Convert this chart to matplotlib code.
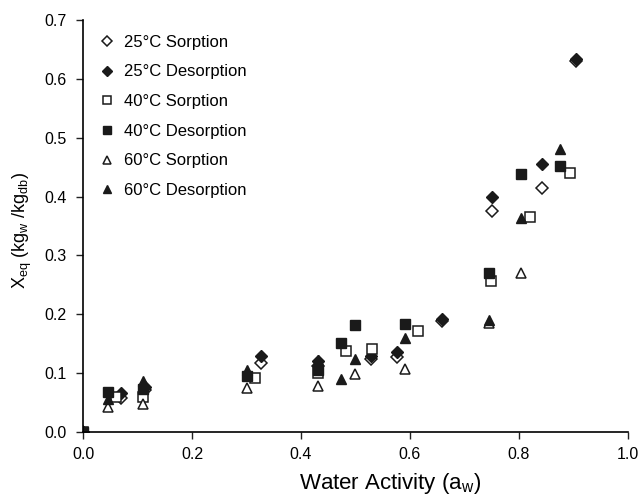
import matplotlib
matplotlib.use("Agg")
import matplotlib.pyplot as plt

plt.rcParams['font.family'] = ['Liberation Sans', 'DejaVu Sans']
plt.rcParams['mathtext.default'] = 'regular'

# water activity / moisture content
aw_25s = [0, 0.070, 0.113, 0.327, 0.431, 0.529, 0.577, 0.659, 0.750, 0.843, 0.905]
x_25s = [0, 0.058, 0.072, 0.118, 0.112, 0.124, 0.128, 0.188, 0.375, 0.415, 0.630]
aw_25d = [0, 0.069, 0.113, 0.327, 0.431, 0.529, 0.577, 0.659, 0.750, 0.843, 0.905]
x_25d = [0, 0.067, 0.076, 0.129, 0.120, 0.129, 0.136, 0.192, 0.399, 0.455, 0.633]
aw_40s = [0, 0.061, 0.110, 0.316, 0.431, 0.483, 0.530, 0.615, 0.748, 0.820, 0.894]
x_40s = [0, 0.060, 0.060, 0.092, 0.100, 0.137, 0.141, 0.171, 0.256, 0.366, 0.440]
aw_40d = [0, 0.045, 0.110, 0.300, 0.431, 0.474, 0.499, 0.590, 0.745, 0.803, 0.875]
x_40d = [0, 0.068, 0.073, 0.095, 0.105, 0.152, 0.182, 0.184, 0.270, 0.439, 0.452]
aw_60s = [0, 0.045, 0.110, 0.300, 0.431, 0.499, 0.590, 0.745, 0.803]
x_60s = [0, 0.042, 0.048, 0.075, 0.079, 0.099, 0.107, 0.185, 0.270]
aw_60d = [0, 0.045, 0.110, 0.300, 0.431, 0.474, 0.499, 0.590, 0.745, 0.803, 0.875]
x_60d = [0, 0.056, 0.086, 0.105, 0.122, 0.091, 0.124, 0.159, 0.190, 0.363, 0.480]

fig = plt.figure(figsize=(6.44, 4.95), dpi=100)
ax = fig.add_axes([0.129, 0.127, 0.846, 0.833])

dark = '#1a1a1a'
ax.plot(aw_25s, x_25s, 'D', ms=6, mfc='white', mec=dark, mew=1.1, ls='none', label='25°C Sorption')
ax.plot(aw_25d, x_25d, 'D', ms=6, mfc=dark, mec=dark, ls='none', label='25°C Desorption')
ax.plot(aw_40s, x_40s, 's', ms=7, mfc='white', mec=dark, mew=1.1, ls='none', label='40°C Sorption')
ax.plot(aw_40d, x_40d, 's', ms=7, mfc=dark, mec=dark, ls='none', label='40°C Desorption')
ax.plot(aw_60s, x_60s, '^', ms=7, mfc='white', mec=dark, mew=1.1, ls='none', label='60°C Sorption')
ax.plot(aw_60d, x_60d, '^', ms=7, mfc=dark, mec=dark, ls='none', label='60°C Desorption')

ax.set_xlim(0, 1.0)
ax.set_ylim(0, 0.7)
ax.set_xticks([0, 0.2, 0.4, 0.6, 0.8, 1.0])
ax.set_yticks([0, 0.1, 0.2, 0.3, 0.4, 0.5, 0.6, 0.7])
ax.xaxis.set_major_formatter(plt.FormatStrFormatter('%.1f'))
ax.yaxis.set_major_formatter(plt.FormatStrFormatter('%.1f'))
ax.tick_params(direction='out', length=5, width=1, labelsize=11.5, color='#222222')
ax.tick_params(axis='x', pad=6)
ax.tick_params(axis='y', pad=7)
ax.spines['top'].set_visible(False)
ax.spines['right'].set_visible(False)
ax.spines['left'].set_linewidth(1.2)
ax.spines['bottom'].set_linewidth(1.2)

ax.set_xlabel('Water Activity (a$_w$)', fontsize=16)
ax.set_ylabel('X$_{eq}$ (kg$_w$ /kg$_{db}$)', fontsize=13)
ax.xaxis.set_label_coords(0.563, -0.095)
ax.yaxis.set_label_coords(-0.09, 0.49)

leg = ax.legend(loc='upper left', frameon=False, fontsize=12, markerscale=0.8,
                handlelength=0.6, handletextpad=0.75, labelspacing=0.88,
                bbox_to_anchor=(0.007, 1.0))

fig.savefig('out.png', dpi=100)
